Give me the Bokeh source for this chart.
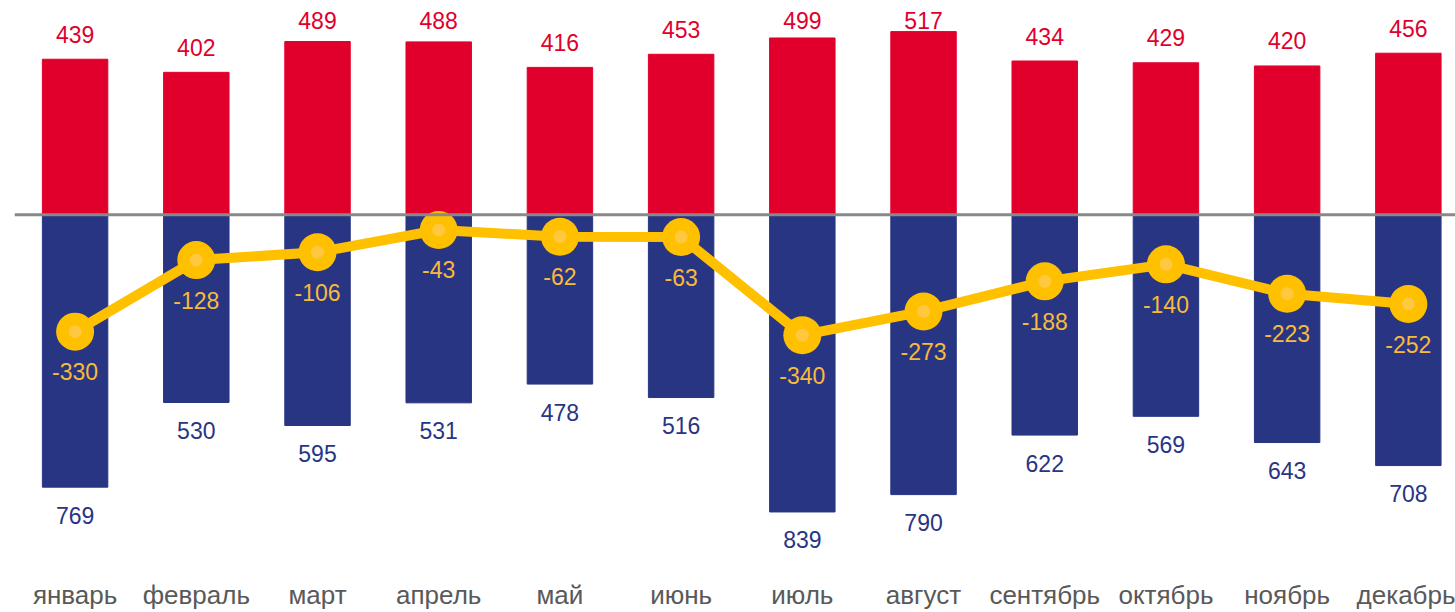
from bokeh.plotting import figure
from bokeh.models import ColumnDataSource, LabelSet, Span, FixedTicker
from bokeh.core.properties import value
from bokeh.embed import file_html
from bokeh.resources import INLINE

months = ["январь", "февраль", "март", "апрель", "май", "июнь",
          "июль", "август", "сентябрь", "октябрь", "ноябрь", "декабрь"]
positive = [439, 402, 489, 488, 416, 453, 499, 517, 434, 429, 420, 456]
negative = [769, 530, 595, 531, 478, 516, 839, 790, 622, 569, 643, 708]
balance = [-330, -128, -106, -43, -62, -63, -340, -273, -188, -140, -223, -252]

RED = "#E1002C"
BLUE = "#283583"
GOLD = "#FFC000"
GOLD_LABEL = "#F7BB3A"
FONT = "Liberation Sans"

# label placement: red labels sit above the bar but are kept inside the top edge
RED_LABEL_CAP = 478.0

idx = list(range(len(months)))
src = ColumnDataSource(dict(
    x=idx,
    pos=positive,
    pos_lab=[min(v, RED_LABEL_CAP) for v in positive],
    neg=[-v for v in negative],
    neg_txt=[str(v) for v in negative],
    pos_txt=[str(v) for v in positive],
    bal=balance,
    bal_txt=[str(v) for v in balance],
))

p = figure(width=1455, height=612, output_backend="svg", toolbar_location=None,
           x_range=(-0.5, 11.389), y_range=(-1024, 604.8),
           min_border_left=14, min_border_right=0, min_border_top=0,
           min_border_bottom=0)
p.outline_line_color = None
p.background_fill_color = "white"
p.border_fill_color = "white"
p.grid.visible = False
p.yaxis.visible = False

p.vbar(x="x", top="pos", bottom=0, width=0.54, color=RED, source=src)
p.vbar(x="x", top=0, bottom="neg", width=0.54, color=BLUE, source=src)

p.add_layout(Span(location=0, dimension="width", line_color="#898989", line_width=3))

p.line(x="x", y="bal", line_color=GOLD, line_width=10, source=src)
p.scatter(x="x", y="bal", size=38, fill_color=GOLD, line_color=None, source=src)
p.scatter(x="x", y="bal", size=13, fill_color="#FFC83E", line_color=None, source=src)

common = dict(x="x", source=src, text_font=value(FONT), text_font_size="23px",
              text_align="center", text_baseline="middle")
p.add_layout(LabelSet(y="pos_lab", text="pos_txt", y_offset=25, text_color=RED, **common))
p.add_layout(LabelSet(y="neg", text="neg_txt", y_offset=-28, text_color=BLUE, **common))
p.add_layout(LabelSet(y="bal", text="bal_txt", y_offset=-40, text_color=GOLD_LABEL, **common))

xa = p.xaxis[0]
xa.ticker = FixedTicker(ticks=idx)
xa.major_label_overrides = {i: m for i, m in enumerate(months)}
xa.axis_line_color = None
xa.major_tick_line_color = None
xa.minor_tick_line_color = None
xa.major_tick_in = 0
xa.major_tick_out = 0
xa.major_label_text_font = FONT
xa.major_label_text_font_size = "26px"
xa.major_label_text_color = "#595959"
xa.major_label_standoff = 2

open("out.html", "w").write(file_html(p, INLINE))
